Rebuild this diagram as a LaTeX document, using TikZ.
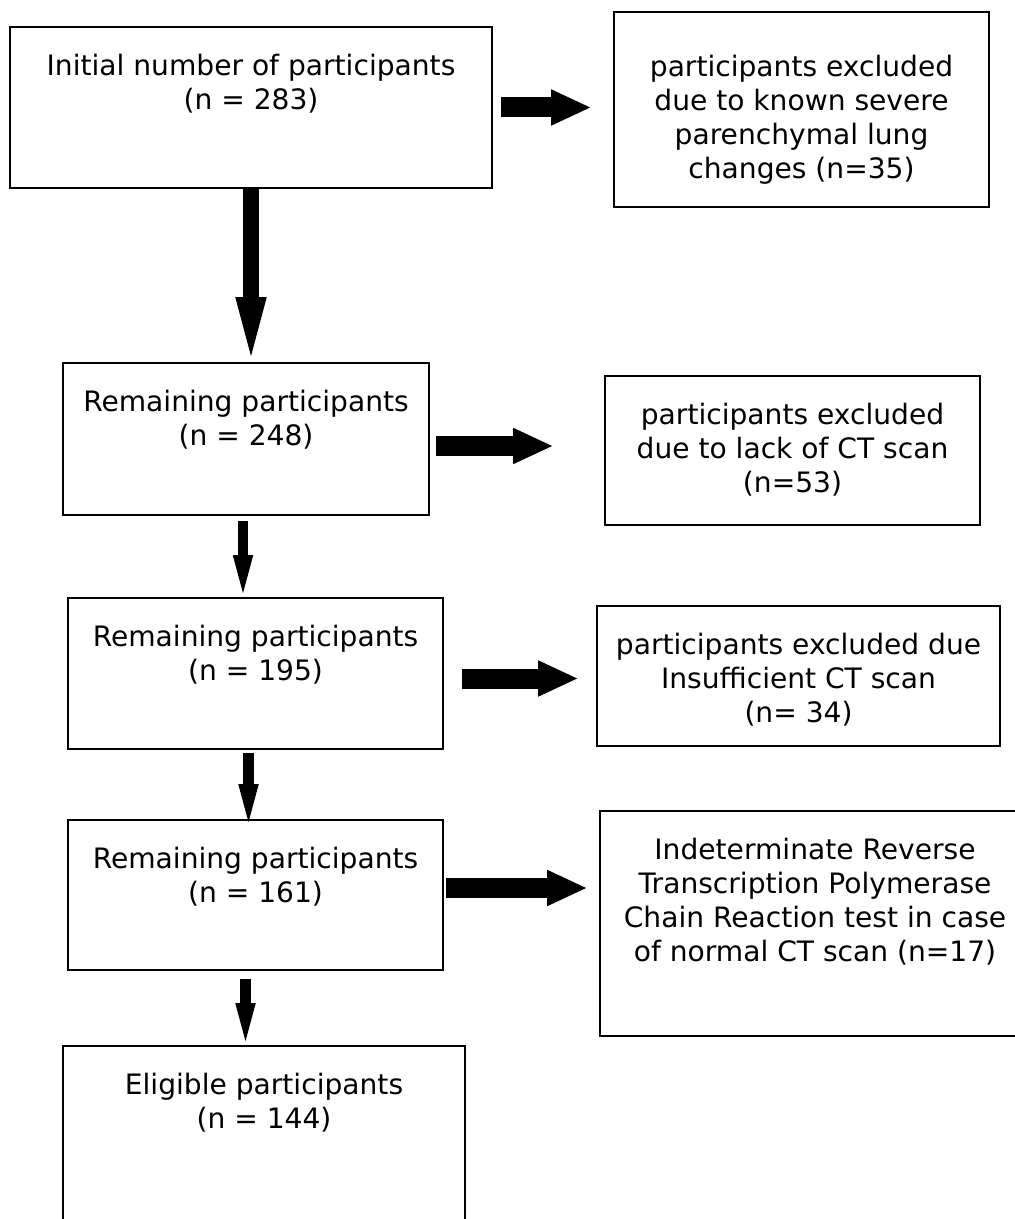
\documentclass[tikz,border=0pt]{standalone}
\usepackage{fontspec}
\setmainfont{DejaVu Sans}
\usetikzlibrary{arrows.meta, positioning, calc, fit}
\newcommand{\flowfont}{\fontsize{16pt}{19.3pt}\selectfont}

\begin{document}
\begin{tikzpicture}[
    x=0.02cm, y=-0.02cm,
    box/.style={draw, line width=1pt, inner sep=0pt, rectangle},
    txt/.style={align=center, inner sep=0pt, font=\flowfont},
    rtarr/.style={line width=0.4cm, -{Triangle[length=0.78cm, width=0.73cm, line width=0pt]}},
    dnarr/.style={line width=0.21cm, -{Triangle[length=0.76cm, width=0.41cm, line width=0pt]}},
    bigdn/.style={line width=0.32cm, -{Triangle[length=1.18cm, width=0.63cm, line width=0pt]}}
  ]
    \useasboundingbox (0,0) rectangle (1014,1219);

    % main column
    \node[box, fit={(10,27) (492,188)}]     (init) {};
    \node[box, fit={(63,363) (429,515)}]    (rem1) {};
    \node[box, fit={(68,598) (443,749)}]    (rem2) {};
    \node[box, fit={(68,820) (443,970)}]    (rem3) {};
    \node[box, fit={(63,1046) (465,1230)}]  (elig) {};

    % exclusions
    \node[box, fit={(614,12) (989,207)}]    (exc1) {};
    \node[box, fit={(605,376) (980,525)}]   (exc2) {};
    \node[box, fit={(597,606) (1000,746)}]  (exc3) {};
    \node[box, fit={(600,811) (1030,1036)}] (exc4) {};

    \node[txt, below=0.55cm of init.north] (init-t) {Initial number of participants\\(n = 283)};
    \node[txt, below=0.55cm of rem1.north] (rem1-t) {Remaining participants\\(n = 248)};
    \node[txt, below=0.55cm of rem2.north] (rem2-t) {Remaining participants\\(n = 195)};
    \node[txt, below=0.55cm of rem3.north] (rem3-t) {Remaining participants\\(n = 161)};
    \node[txt, below=0.55cm of elig.north] (elig-t) {Eligible participants\\(n = 144)};

    \node[txt, below=0.87cm of exc1.north] (exc1-t) {participants excluded\\due to known severe\\parenchymal lung\\changes (n=35)};
    \node[txt, below=0.55cm of exc2.north] (exc2-t) {participants excluded\\due to lack of CT scan\\(n=53)};
    \node[txt, below=0.55cm of exc3.north] (exc3-t) {participants excluded due\\Insufficient CT scan\\(n= 34)};
    \node[txt, below=0.55cm of exc4.north] (exc4-t) {Indeterminate Reverse\\Transcription Polymerase\\Chain Reaction test in case\\of normal CT scan (n=17)};

    % side arrows
    \draw[rtarr, shorten <=0.16cm, shorten >=0.46cm] (init.east) -- (init.east -| exc1.west);
    \draw[rtarr, shorten <=0.12cm, shorten >=1.04cm] ($(rem1.east)+(0,7)$) -- ($(rem1.east -| exc2.west)+(0,7)$);
    \draw[rtarr, shorten <=0.36cm, shorten >=0.38cm] ($(rem2.east)+(0,5)$) -- ($(rem2.east -| exc3.west)+(0,5)$);
    \draw[rtarr, shorten <=0.04cm, shorten >=0.26cm] ($(rem3.east)+(0,-7)$) -- ($(rem3.east -| exc4.west)+(0,-7)$);

    % down arrows
    \draw[bigdn, shorten >=0.12cm] (init.south) -- (init.south |- rem1.north);
    \draw[dnarr, shorten <=0.1cm, shorten >=0.08cm] ($(rem1.south)+(-3,0)$) -- ($(rem1.south |- rem2.north)+(-3,0)$);
    \draw[dnarr, shorten <=0.06cm, shorten >=-0.06cm] ($(rem2.south)+(-7,0)$) -- ($(rem2.south |- rem3.north)+(-7,0)$);
    \draw[dnarr, shorten <=0.16cm, shorten >=0.08cm] ($(rem3.south)+(-10,0)$) -- ($(rem3.south |- elig.north)+(-10,0)$);
\end{tikzpicture}
\end{document}
